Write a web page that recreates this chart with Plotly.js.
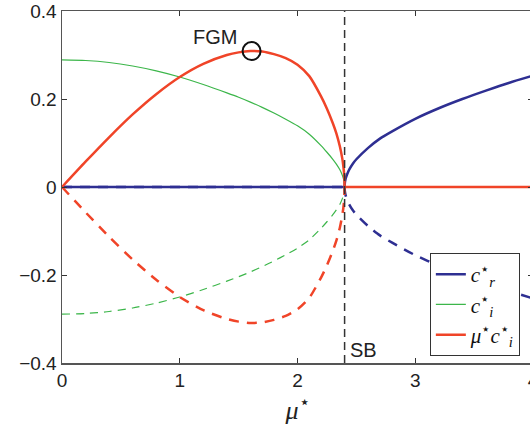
<!DOCTYPE html>
<html>
<head>
<meta charset="utf-8">
<script src="https://cdn.plot.ly/plotly-3.0.1.min.js"></script>
<style>
html,body{margin:0;padding:0;overflow:hidden;background:#fff;}
#chart{width:540px;height:430px;}
</style>
</head>
<body>
<div id="chart"></div>
<script>
// Branch below the bifurcation (mu* < SB)
const muLow = [0, 0.2, 0.4, 0.6, 0.8, 1.0, 1.2, 1.4, 1.5, 1.6, 1.7, 1.8, 1.9, 2.0, 2.1, 2.2, 2.25, 2.3, 2.33, 2.36, 2.38, 2.39, 2.397, 2.4];
const ciLow = [0.289, 0.2875, 0.283, 0.275, 0.264, 0.250, 0.233, 0.214, 0.204, 0.193, 0.181, 0.168, 0.154, 0.139, 0.120, 0.094, 0.079, 0.063, 0.052, 0.039, 0.027, 0.019, 0.010, 0];
const muCiLow = [0, 0.0575, 0.113, 0.165, 0.211, 0.250, 0.280, 0.300, 0.306, 0.309, 0.308, 0.302, 0.293, 0.278, 0.252, 0.206, 0.178, 0.145, 0.122, 0.092, 0.065, 0.046, 0.025, 0];
// Branch above the bifurcation
const muHigh = [2.4, 4.0];
const ciHigh = [0, 0];
// c_r*
const muCrZero = [0, 2.4];
const crZero = [0, 0];
const muCr = [2.4, 2.402, 2.405, 2.41, 2.42, 2.44, 2.47, 2.5, 2.6, 2.7, 2.8, 3.0, 3.2, 3.4, 3.6, 3.8, 4.0];
const crVals = [0, 0.009, 0.014, 0.020, 0.028, 0.040, 0.053, 0.063, 0.089, 0.110, 0.126, 0.155, 0.179, 0.200, 0.219, 0.237, 0.253];
// markers / annotations
const sbMu = 2.4;
const fgmMu = [1.61];
const fgmVal = [0.309];

const BLUE = '#2e2f92', GREEN = '#3cb64a', RED = '#f04428';
const neg = a => a.map(v => -v);
const SM = 0.6;

const traces = [
  {x: muCrZero, y: crZero, mode: 'lines', line: {color: BLUE, width: 2.5}, showlegend: false},
  {x: muCr, y: crVals, mode: 'lines', line: {color: BLUE, width: 2.5, shape: 'spline', smoothing: SM},
   name: '<i>c</i><sup>⋆</sup><sub><i>r</i></sub>'},
  {x: muCrZero, y: crZero, mode: 'lines', line: {color: BLUE, width: 2.5, dash: '10px,8px'}, showlegend: false},
  {x: muCr, y: neg(crVals), mode: 'lines', line: {color: BLUE, width: 2.5, dash: '10px,8px', shape: 'spline', smoothing: SM},
   showlegend: false},
  {x: muLow, y: ciLow, mode: 'lines', line: {color: GREEN, width: 1.2, shape: 'spline', smoothing: SM},
   name: '<i>c</i><sup>⋆</sup><sub><i>i</i></sub>'},
  {x: muLow, y: neg(ciLow), mode: 'lines', line: {color: GREEN, width: 1.2, dash: '8px,6px', shape: 'spline', smoothing: SM},
   showlegend: false},
  {x: muHigh, y: ciHigh, mode: 'lines', line: {color: GREEN, width: 1.2}, showlegend: false},
  {x: muLow, y: muCiLow, mode: 'lines', line: {color: RED, width: 2.5, shape: 'spline', smoothing: SM},
   name: '<i>μ</i><sup>⋆</sup><i>c</i><sup>⋆</sup><sub><i>i</i></sub>'},
  {x: muLow, y: neg(muCiLow), mode: 'lines', line: {color: RED, width: 2.5, dash: '10px,8px', shape: 'spline', smoothing: SM},
   showlegend: false},
  {x: muHigh, y: ciHigh, mode: 'lines', line: {color: RED, width: 2.5}, showlegend: false},
  {x: fgmMu, y: fgmVal, mode: 'markers', marker: {symbol: 'circle-open', size: 18, color: '#111', line: {width: 2, color: '#111'}},
   showlegend: false}
];

const axisCommon = {
  showline: true, linecolor: '#555', linewidth: 1.5, mirror: 'allticks',
  ticks: 'inside', ticklen: 5, tickcolor: '#333', tickwidth: 1,
  showgrid: false, zeroline: false,
  tickfont: {family: 'Liberation Sans, Arial, sans-serif', size: 19, color: '#222'}
};

const layout = {
  width: 540, height: 430,
  margin: {l: 62, r: 7, t: 11, b: 67},
  paper_bgcolor: '#fff', plot_bgcolor: '#fff',
  showlegend: true,
  xaxis: Object.assign({}, axisCommon, {range: [0, 4], dtick: 1, tick0: 0,
    title: {text: '<i>μ</i><sup>⋆</sup>', font: {family: 'Liberation Serif, DejaVu Serif, serif', size: 26, color: '#222'}, standoff: 10}}),
  yaxis: Object.assign({}, axisCommon, {range: [-0.4, 0.4], dtick: 0.2, tick0: 0}),
  legend: {x: 0.781, y: 0.3125, xanchor: 'left', yanchor: 'top',
    bgcolor: '#fff', bordercolor: '#333', borderwidth: 1,
    font: {family: 'Liberation Serif, DejaVu Serif, serif', size: 21, color: '#111'},
    itemwidth: 30, tracegroupgap: 0},
  shapes: [{type: 'line', xref: 'x', yref: 'paper', x0: sbMu, x1: sbMu, y0: 0, y1: 1,
    line: {color: '#333', width: 1.5, dash: '8px,5px'}}],
  annotations: [
    {x: 1.50, y: 0.341, xref: 'x', yref: 'y', text: 'FGM', showarrow: false, xanchor: 'right', yanchor: 'middle',
     font: {family: 'Liberation Sans, Arial, sans-serif', size: 20, color: '#222'}},
    {x: sbMu + 0.03, y: -0.371, xref: 'x', yref: 'y', text: 'SB', showarrow: false, xanchor: 'left', yanchor: 'middle',
     font: {family: 'Liberation Sans, Arial, sans-serif', size: 20, color: '#222'}}
  ]
};

Plotly.newPlot('chart', traces, layout, {displayModeBar: false, staticPlot: true});
</script>
</body>
</html>
